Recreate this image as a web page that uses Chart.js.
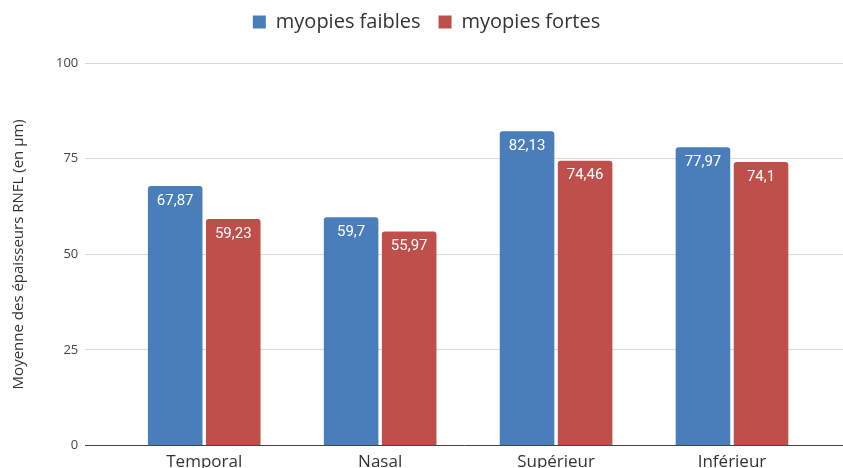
<!DOCTYPE html>
<html>
<head>
<meta charset="utf-8">
<script src="https://cdn.jsdelivr.net/npm/chart.js@4"></script>
<style>
  html, body { margin: 0; padding: 0; background: #fff; overflow: hidden; }
  canvas { display: block; }
</style>
</head>
<body>
<canvas id="c" width="843" height="468"></canvas>
<script>
// Data
const categories = ["Temporal", "Nasal", "Supérieur", "Inférieur"];
const faibles = [67.87, 59.7, 82.13, 77.97];
const fortes = [59.23, 55.97, 74.46, 74.1];
const yTicks = [0, 25, 50, 75, 100];

const BLUE = "#4a7ebb";
const RED = "#be4f4b";
const FONT = "'Open Sans', 'Noto Sans', sans-serif";

// Values written inside the top of each bar
const barLabels = {
  id: "barLabels",
  afterDatasetsDraw(chart) {
    const ctx = chart.ctx;
    ctx.save();
    ctx.fillStyle = "#ffffff";
    ctx.font = "15px Roboto, sans-serif";
    ctx.textAlign = "center";
    ctx.textBaseline = "middle";
    chart.data.datasets.forEach((ds, di) => {
      chart.getDatasetMeta(di).data.forEach((bar, i) => {
        const txt = String(ds.data[i].y).replace(".", ",");
        ctx.fillText(txt, bar.x, bar.y + 15);
      });
    });
    ctx.restore();
  },
};

// Extra room under the legend
const legendGap = {
  id: "legendGap",
  beforeInit(chart) {
    const fit = chart.legend.fit;
    chart.legend.fit = function () {
      fit.call(this);
      this.height += 21;
    };
  },
};

new Chart(document.getElementById("c"), {
  type: "bar",
  data: {
    datasets: [
      {
        label: "myopies faibles",
        data: faibles.map((v, i) => ({ x: i, y: v })),
        backgroundColor: BLUE,
        borderRadius: { topLeft: 3, topRight: 3 },
        borderSkipped: "bottom",
        categoryPercentage: 0.66,
        barPercentage: 0.94,
      },
      {
        label: "myopies fortes",
        data: fortes.map((v, i) => ({ x: i, y: v })),
        backgroundColor: RED,
        borderRadius: { topLeft: 3, topRight: 3 },
        borderSkipped: "bottom",
        categoryPercentage: 0.66,
        barPercentage: 0.94,
      },
    ],
  },
  options: {
    responsive: false,
    animation: false,
    layout: { padding: { left: 10, right: 0, top: -6, bottom: -2 } },
    scales: {
      x: {
        type: "linear",
        offset: false,
        min: -0.676,
        max: 3.631,
        afterBuildTicks: (axis) => {
          axis.ticks = categories.map((_, i) => ({ value: i }));
        },
        ticks: {
          autoSkip: false,
          maxRotation: 0,
          color: "#333",
          padding: -2,
          font: { family: FONT, size: 17 },
          callback: (v) => categories[v] || "",
        },
        grid: { display: false },
        border: { display: true, color: "#444", width: 1 },
      },
      y: {
        min: 0,
        max: 100,
        afterBuildTicks: (axis) => {
          axis.ticks = yTicks.map((v) => ({ value: v }));
        },
        ticks: {
          color: "#444",
          padding: 7,
          font: { family: FONT, size: 13 },
        },
        grid: { color: "#d9d9d9", lineWidth: 1, drawTicks: false },
        border: { display: false },
        title: {
          display: true,
          text: "Moyenne des épaisseurs RNFL (en µm)",
          color: "#333",
          font: { family: FONT, size: 15 },
          padding: { top: 0, bottom: 21 },
        },
      },
    },
    plugins: {
      legend: {
        position: "top",
        labels: {
          color: "#333",
          font: { family: FONT, size: 20 },
          boxWidth: 13,
          boxHeight: 13,
          padding: 18,
        },
      },
      tooltip: { enabled: false },
    },
  },
  plugins: [barLabels, legendGap],
});
</script>
</body>
</html>
